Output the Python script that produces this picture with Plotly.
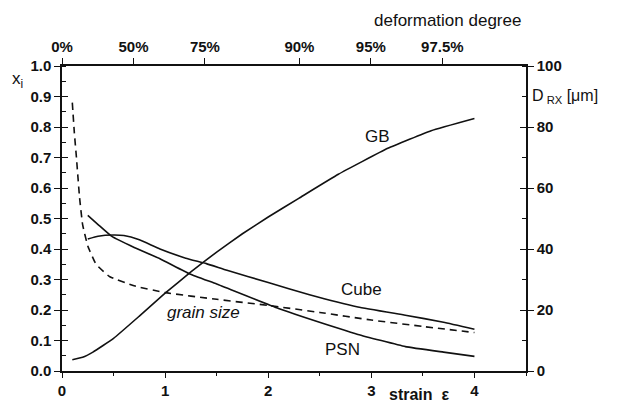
import numpy as np
import plotly.graph_objects as go

# ---- data ----
gb_strain = [0.1, 0.2, 0.3, 0.5, 0.75, 1.0, 1.25, 1.5, 1.75, 2.0, 2.3, 2.68, 3.16, 3.58, 4.0]
gb_x = [0.037, 0.045, 0.062, 0.107, 0.18, 0.255, 0.325, 0.39, 0.45, 0.505, 0.567, 0.645, 0.73, 0.788, 0.828]

cube_strain = [0.25, 0.35, 0.5, 0.6, 0.75, 0.95, 1.2, 1.4, 1.6, 2.0, 2.4, 2.87, 3.33, 3.7, 4.0]
cube_x = [0.433, 0.442, 0.446, 0.444, 0.43, 0.40, 0.37, 0.352, 0.33, 0.29, 0.25, 0.21, 0.183, 0.16, 0.137]

psn_strain = [0.25, 0.35, 0.48, 0.7, 0.95, 1.24, 1.5, 2.1, 2.68, 2.87, 3.33, 3.7, 4.0]
psn_x = [0.51, 0.48, 0.442, 0.405, 0.368, 0.318, 0.285, 0.205, 0.14, 0.12, 0.08, 0.062, 0.048]

gs_strain = [0.1, 0.12, 0.14, 0.17, 0.2, 0.25, 0.33, 0.46, 0.69, 1.0, 1.5, 2.0, 2.5, 3.0, 3.5, 4.0]
gs_d = [88, 78, 70, 57, 48, 41, 35, 31, 28, 25.7, 23.5, 21.5, 19.2, 16.7, 14.6, 12.6]

deform_degree = [0.0, 0.5, 0.75, 0.9, 0.95, 0.975]
deform_labels = ["0%", "50%", "75%", "90%", "95%", "97.5%"]
deform_strain = [-np.log(1 - d) for d in deform_degree]

bottom_ticks = [0, 1, 2, 3, 4]
left_ticks = [round(0.1 * i, 1) for i in range(11)]
right_ticks = [0, 20, 40, 60, 80, 100]

FONT = "Liberation Sans, Arial, sans-serif"
BLACK = "#111111"

fig = go.Figure()
line = dict(color=BLACK, width=1.6, shape="spline", smoothing=0.35)
fig.add_trace(go.Scatter(x=gb_strain, y=gb_x, mode="lines", line=line, xaxis="x", yaxis="y"))
fig.add_trace(go.Scatter(x=cube_strain, y=cube_x, mode="lines", line=line, xaxis="x", yaxis="y"))
fig.add_trace(go.Scatter(x=psn_strain, y=psn_x, mode="lines", line=line, xaxis="x", yaxis="y"))
fig.add_trace(go.Scatter(x=gs_strain, y=gs_d, mode="lines",
                         line=dict(color=BLACK, width=1.6, dash="7px,5px", shape="spline", smoothing=0.35),
                         xaxis="x", yaxis="y2"))

tickfont = dict(family=FONT, size=15, color=BLACK, weight="bold")
axcommon = dict(showgrid=False, zeroline=False, showline=True, linecolor=BLACK, linewidth=1.5,
                tickcolor=BLACK, tickwidth=1.3, tickfont=tickfont)

fig.update_layout(
    width=623, height=411,
    margin=dict(l=62, r=97, t=66, b=38),
    paper_bgcolor="white", plot_bgcolor="white",
    showlegend=False,
    xaxis=dict(range=[0, 4.5], tickvals=bottom_ticks, ticks="outside", ticklen=5,
               minor=dict(dtick=0.5, ticks="outside", ticklen=3, tickcolor=BLACK),
               **axcommon),
    xaxis2=dict(range=[0, 4.5], overlaying="x", side="top", tickvals=deform_strain,
                ticktext=deform_labels, ticks="outside", ticklen=6, anchor="y", **axcommon),
    yaxis=dict(range=[0, 1], tickvals=left_ticks, tickformat=".1f", ticks="outside", ticklen=6,
               minor=dict(dtick=0.05, ticks="inside", ticklen=4, tickcolor=BLACK),
               **axcommon),
    yaxis2=dict(range=[0, 100], overlaying="y", side="right", tickvals=right_ticks,
                ticks="outside", ticklen=6,
                minor=dict(dtick=10, ticks="inside", ticklen=4, tickcolor=BLACK),
                anchor="x", **axcommon),
    # overlay axes to make major ticks cross the axis line
    yaxis3=dict(range=[0, 1], overlaying="y", side="left", tickvals=left_ticks, ticks="inside",
                ticklen=6, showticklabels=False, showgrid=False, zeroline=False, showline=False,
                tickcolor=BLACK, tickwidth=1.3, anchor="x"),
    yaxis4=dict(range=[0, 100], overlaying="y", side="right", tickvals=right_ticks, ticks="inside",
                ticklen=6, showticklabels=False, showgrid=False, zeroline=False, showline=False,
                tickcolor=BLACK, tickwidth=1.3, anchor="x"),
)
fig.add_trace(go.Scatter(x=[None], y=[None], xaxis="x", yaxis="y3", showlegend=False))
fig.add_trace(go.Scatter(x=[None], y=[None], xaxis="x", yaxis="y4", showlegend=False))
fig.add_trace(go.Scatter(x=[None], y=[None], xaxis="x2", yaxis="y", showlegend=False))

lblfont = dict(family=FONT, size=17, color=BLACK)
ann = [
    dict(x=3.06, y=0.769, xref="x", yref="y", text="GB", showarrow=False, font=lblfont),
    dict(x=2.90, y=0.268, xref="x", yref="y", text="Cube", showarrow=False, font=lblfont),
    dict(x=2.72, y=0.072, xref="x", yref="y", text="PSN", showarrow=False, font=lblfont),
    dict(x=1.375, y=0.192, xref="x", yref="y", text="<i>grain size</i>", showarrow=False, font=lblfont),
    dict(x=-0.112, y=0.954, xref="paper", yref="paper", text="x<sub>i</sub>", showarrow=False,
         xanchor="left", yanchor="middle", font=dict(family=FONT, size=17, color=BLACK)),
    dict(x=1.0086, y=0.899, xref="paper", yref="paper", text="D<sub> RX</sub> [μm]", showarrow=False,
         xanchor="left", yanchor="middle", font=dict(family=FONT, size=16, color=BLACK)),
    dict(x=0.70, y=-0.078, xref="paper", yref="paper", text="strain  ε", showarrow=False,
         xanchor="left", yanchor="middle", font=dict(family=FONT, size=16, color=BLACK, weight="bold")),
    dict(x=0.668, y=1.15, xref="paper", yref="paper", text="deformation degree", showarrow=False,
         xanchor="left", yanchor="middle", font=dict(family=FONT, size=17, color=BLACK)),
]
fig.update_layout(annotations=ann)

fig.write_html("out.html")
